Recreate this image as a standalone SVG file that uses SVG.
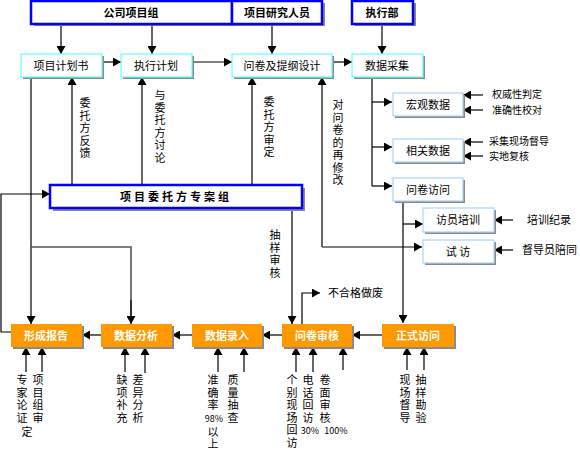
<svg xmlns="http://www.w3.org/2000/svg" width="580" height="456" viewBox="0 0 580 456">
<defs>
<marker id="ah" markerUnits="userSpaceOnUse" markerWidth="9" markerHeight="9" refX="8" refY="4.5" orient="auto-start-reverse">
<path d="M0,0 L8,4.5 L0,9 Z" fill="#000"/>
</marker>
</defs>
<style>
text{font-family:"Noto Sans CJK SC","Liberation Sans",sans-serif;font-size:11px;fill:#000}
.c{text-anchor:middle}
.b{font-weight:bold}
.w{fill:#fff;font-weight:bold}
.v{writing-mode:vertical-rl}
.sh{fill:#8a8a8a}
.hdr{fill:#fff;stroke:#0000ff;stroke-width:2.5}
.l2{fill:#fff;stroke:#66ffff;stroke-width:1.2}
.sub{fill:#fff;stroke:#a8d4ff;stroke-width:1.2}
.or{fill:#ff9900}
.ln{fill:none;stroke:#000;stroke-width:1.2}
.gl{fill:none;stroke:#555;stroke-width:1.6}
.ar{marker-end:url(#ah)}
.sm{font-size:9px}
.rs{font-size:10px}
</style>

<g id="connectors">
<path class="ln ar" d="M61,24 V54"/>
<path class="ln ar" d="M152,24 V54"/>
<path class="ln ar" d="M272,24 V54"/>
<path class="ln ar" d="M382,24 V54"/>
<path class="ln ar" d="M102,62 H121"/>
<path class="ln ar" d="M192,62 H232"/>
<path class="ln ar" d="M332,62 H352"/>
<path class="ln ar" d="M31,77 V324"/>
<path class="gl" d="M31,247 H131 V318"/>
<path class="ln ar" d="M131,300 V324"/>
<path class="ln ar" d="M72,185 V77"/>
<path class="ln ar" d="M142,185 V77"/>
<path class="ln ar" d="M252,185 V77"/>
<path class="ln ar" d="M11,332 H1 V194 H50"/>
<path class="ln ar" d="M292,208 V324"/>
<path class="ln ar" d="M302,324 V293 H320"/>
<path class="ln ar" d="M322,247 V77"/>
<path class="gl ar" d="M322,247 H422"/>
<path class="ln" d="M372,77 V186"/>
<path class="ln ar" d="M372,102 H392"/>
<path class="ln ar" d="M372,147 H392"/>
<path class="ln ar" d="M372,186 H392"/>
<path class="ln ar" d="M483,95 H463"/>
<path class="ln ar" d="M483,110 H463"/>
<path class="ln ar" d="M483,142 H463"/>
<path class="ln ar" d="M483,156 H463"/>
<path class="ln ar" d="M403,201 V323"/>
<path class="ln ar" d="M403,224 H423"/>
<path class="ln ar" d="M513,220 H494"/>
<path class="ln ar" d="M513,250 H494"/>
<path class="ln ar" d="M382,335 H352"/>
<path class="ln ar" d="M282,335 H262"/>
<path class="ln ar" d="M192,335 H172"/>
<path class="ln ar" d="M101,335 H82"/>
<path class="ln ar" d="M26,372 V347"/>
<path class="ln ar" d="M42,372 V347"/>
<path class="ln ar" d="M125,372 V347"/>
<path class="ln ar" d="M145,373 V347"/>
<path class="ln ar" d="M218,372 V347"/>
<path class="ln ar" d="M244,372 V347"/>
<path class="ln ar" d="M296,372 V347"/>
<path class="ln ar" d="M313,372 V347"/>
<path class="ln ar" d="M343,370 V347"/>
<path class="ln ar" d="M407,370 V347"/>
<path class="ln ar" d="M424,370 V347"/>
</g>

<g id="n-gsxmz">
<rect class="sh" x="34" y="3" width="201" height="23"/>
<rect class="hdr" x="31" y="1" width="201" height="23"/>
<text class="c b" x="131" y="17">公司项目组</text>
</g>
<g id="n-xmyjry">
<rect class="sh" x="235" y="3" width="90" height="23"/>
<rect class="hdr" x="232" y="1" width="90" height="23"/>
<text class="c b" x="277" y="17">项目研究人员</text>
</g>
<g id="n-zxb">
<rect class="sh" x="355" y="3" width="61" height="23"/>
<rect class="hdr" x="352" y="1" width="61" height="23"/>
<text class="c b" x="382" y="17">执行部</text>
</g>

<g id="n-xmjhs">
<rect class="sh" x="23" y="56" width="81" height="23"/>
<rect class="l2" x="21" y="54" width="81" height="23"/>
<text class="c" x="61" y="70">项目计划书</text>
</g>
<g id="n-zxjh">
<rect class="sh" x="123" y="56" width="71" height="23"/>
<rect class="l2" x="121" y="54" width="71" height="23"/>
<text class="c" x="156" y="70">执行计划</text>
</g>
<g id="n-wjsj">
<rect class="sh" x="234" y="56" width="100" height="23"/>
<rect class="l2" x="232" y="54" width="100" height="23"/>
<text class="c" x="282" y="70">问卷及提纲设计</text>
</g>
<g id="n-sjcj">
<rect class="sh" x="354" y="56" width="71" height="23"/>
<rect class="l2" x="352" y="54" width="71" height="23"/>
<text class="c" x="387" y="70">数据采集</text>
</g>

<g id="n-zaz">
<rect class="sh" x="53" y="188" width="252" height="23"/>
<rect class="hdr" x="50" y="185" width="252" height="23"/>
<text class="c b" x="176" y="201" letter-spacing="3">项目委托方专案组</text>
</g>

<g id="n-hgsj">
<rect class="sh" x="395" y="95" width="70" height="23"/>
<rect class="sub" x="393" y="93" width="70" height="23"/>
<text class="c" x="428" y="109">宏观数据</text>
</g>
<g id="n-xgsj">
<rect class="sh" x="395" y="141" width="70" height="23"/>
<rect class="sub" x="393" y="139" width="70" height="23"/>
<text class="c" x="428" y="155">相关数据</text>
</g>
<g id="n-wjfw">
<rect class="sh" x="395" y="180" width="70" height="23"/>
<rect class="sub" x="393" y="178" width="70" height="23"/>
<text class="c" x="428" y="194">问卷访问</text>
</g>
<g id="n-fypx">
<rect class="sh" x="425" y="210" width="71" height="24"/>
<rect class="sub" x="423" y="208" width="71" height="24"/>
<text class="c" x="458" y="224">访员培训</text>
</g>
<g id="n-sf">
<rect class="sh" x="425" y="242" width="71" height="23"/>
<rect class="sub" x="423" y="240" width="71" height="23"/>
<text class="c" x="458" y="256">试 访</text>
</g>

<g id="n-xcbg">
<rect class="sh" x="13" y="326" width="71" height="23"/>
<rect class="or" x="11" y="324" width="71" height="23"/>
<text class="c w" x="46" y="340">形成报告</text>
</g>
<g id="n-sjfx">
<rect class="sh" x="103" y="326" width="71" height="23"/>
<rect class="or" x="101" y="324" width="71" height="23"/>
<text class="c w" x="136" y="340">数据分析</text>
</g>
<g id="n-sjlr">
<rect class="sh" x="194" y="326" width="70" height="23"/>
<rect class="or" x="192" y="324" width="70" height="23"/>
<text class="c w" x="227" y="340">数据录入</text>
</g>
<g id="n-wjsh">
<rect class="sh" x="284" y="326" width="70" height="23"/>
<rect class="or" x="282" y="324" width="70" height="23"/>
<text class="c w" x="317" y="340">问卷审核</text>
</g>
<g id="n-zsfw">
<rect class="sh" x="384" y="326" width="72" height="23"/>
<rect class="or" x="382" y="324" width="72" height="23"/>
<text class="c w" x="418" y="340">正式访问</text>
</g>

<g id="labels">
<text class="v"><tspan x="85" y="97.5">委</tspan><tspan x="85" y="110">托</tspan><tspan x="85" y="122.5">方</tspan><tspan x="85" y="135">反</tspan><tspan x="85" y="147.5">馈</tspan></text>
<text class="v"><tspan x="160" y="89.5">与</tspan><tspan x="160" y="102">委</tspan><tspan x="160" y="114.5">托</tspan><tspan x="160" y="127">方</tspan><tspan x="160" y="139.5">讨</tspan><tspan x="160" y="152">论</tspan></text>
<text class="v"><tspan x="269" y="96.5">委</tspan><tspan x="269" y="109">托</tspan><tspan x="269" y="121.5">方</tspan><tspan x="269" y="134">审</tspan><tspan x="269" y="146.5">定</tspan></text>
<text class="v"><tspan x="338" y="99.5">对</tspan><tspan x="338" y="112">问</tspan><tspan x="338" y="124.5">卷</tspan><tspan x="338" y="137">的</tspan><tspan x="338" y="149.5">再</tspan><tspan x="338" y="162">修</tspan><tspan x="338" y="174.5">改</tspan></text>
<text class="v"><tspan x="275" y="229.5">抽</tspan><tspan x="275" y="242">样</tspan><tspan x="275" y="254.5">审</tspan><tspan x="275" y="267">核</tspan></text>
<text x="328" y="297">不合格做废</text>
<text class="rs" x="492" y="98">权威性判定</text>
<text class="rs" x="492" y="113.5">准确性校对</text>
<text class="rs" x="489" y="145">采集现场督导</text>
<text class="rs" x="489" y="160">实地复核</text>
<text x="527" y="224">培训纪录</text>
<text x="522" y="254">督导员陪同</text>

<text class="v"><tspan x="22" y="374.5">专</tspan><tspan x="22" y="387">家</tspan><tspan x="22" y="399.5">论</tspan><tspan x="22" y="412">证</tspan><tspan x="27" y="426">定</tspan></text>
<text class="v"><tspan x="38" y="374.5">项</tspan><tspan x="38" y="387">目</tspan><tspan x="38" y="399.5">组</tspan><tspan x="38" y="412">审</tspan></text>
<text class="v"><tspan x="122" y="374.5">缺</tspan><tspan x="122" y="387">项</tspan><tspan x="122" y="399.5">补</tspan><tspan x="122" y="412">充</tspan></text>
<text class="v"><tspan x="138" y="374.5">差</tspan><tspan x="138" y="387">异</tspan><tspan x="138" y="399.5">分</tspan><tspan x="138" y="412">析</tspan></text>
<text class="v"><tspan x="213" y="374.5">准</tspan><tspan x="213" y="387">确</tspan><tspan x="213" y="399.5">率</tspan><tspan x="213" y="426">以</tspan><tspan x="213" y="438.5">上</tspan></text>
<text class="c sm" x="214" y="421.5">98%</text>
<text class="v"><tspan x="233" y="374.5">质</tspan><tspan x="233" y="387">量</tspan><tspan x="233" y="399.5">抽</tspan><tspan x="233" y="412">查</tspan></text>
<text class="v"><tspan x="292" y="374.5">个</tspan><tspan x="292" y="387">别</tspan><tspan x="292" y="399.5">现</tspan><tspan x="292" y="412">场</tspan><tspan x="292" y="424.5">回</tspan><tspan x="292" y="437">访</tspan></text>
<text class="v"><tspan x="308" y="374.5">电</tspan><tspan x="308" y="387">话</tspan><tspan x="308" y="399.5">回</tspan><tspan x="308" y="412">访</tspan></text>
<text class="c sm" x="310" y="434">30%</text>
<text class="v"><tspan x="325" y="374.5">卷</tspan><tspan x="325" y="387">面</tspan><tspan x="325" y="399.5">审</tspan><tspan x="325" y="412">核</tspan></text>
<text class="c sm" x="336" y="434">100%</text>
<text class="v"><tspan x="405" y="374.5">现</tspan><tspan x="405" y="387">场</tspan><tspan x="405" y="399.5">督</tspan><tspan x="405" y="412">导</tspan></text>
<text class="v"><tspan x="421" y="374.5">抽</tspan><tspan x="421" y="387">样</tspan><tspan x="421" y="399.5">勘</tspan><tspan x="421" y="412">验</tspan></text>
</g>
</svg>
